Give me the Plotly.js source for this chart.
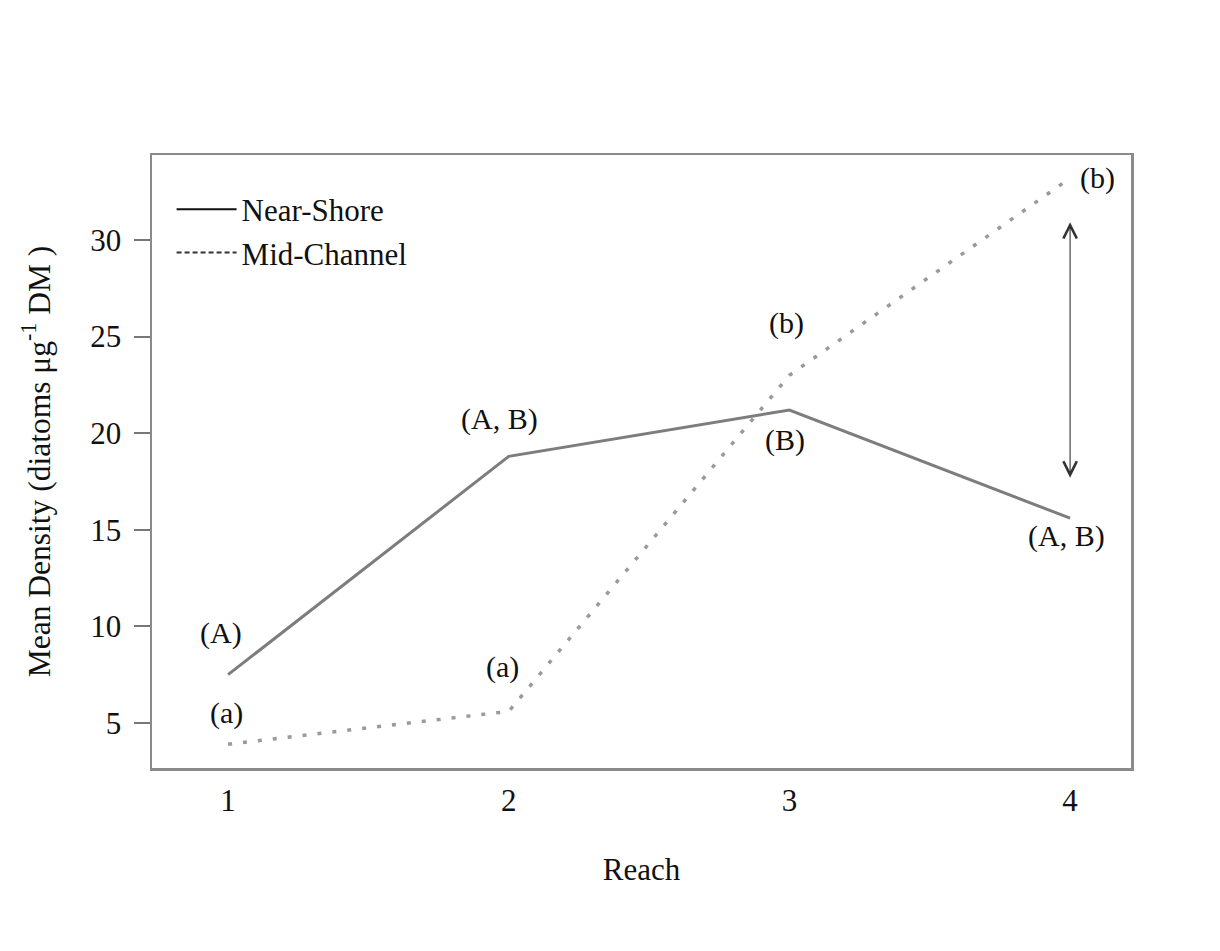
<!DOCTYPE html>
<html>
<head>
<meta charset="utf-8">
<script src="https://cdn.plot.ly/plotly-3.0.1.min.js"></script>
<style>html,body{margin:0;padding:0;background:#fff;}#chart{width:1220px;height:951px;}</style>
</head>
<body>
<div id="chart"></div>
<script>
// ---- data ----
var reach = [1, 2, 3, 4];
var nearShore = [7.5, 18.8, 21.2, 15.6];
var midChannel = [3.9, 5.6, 23.0, 33.2];
var nearShoreLetters = ["(A)", "(A, B)", "(B)", "(A, B)"];
var midChannelLetters = ["(a)", "(a)", "(b)", "(b)"];
var yTicks = [5, 10, 15, 20, 25, 30];
var xTicks = [1, 2, 3, 4];
var arrowReach = 4;
var arrowFrom = 17.7;
var arrowTo = 31.0;

var FONT = "Liberation Serif, Times New Roman, serif";

var traces = [
  {x: reach, y: nearShore, mode: "lines", name: "Near-Shore", showlegend: false,
   line: {color: "#7d7d7d", width: 3}},
  {x: reach, y: midChannel, mode: "lines", name: "Mid-Channel", showlegend: false,
   line: {color: "#9a9a9a", width: 3.5, dash: "4px,11px"}},
  // legend-only entries (black samples, like the reference key)
  {x: [null], y: [null], mode: "lines", name: "Near-Shore",
   line: {color: "#111", width: 2}},
  {x: [null], y: [null], mode: "lines", name: "Mid-Channel",
   line: {color: "#333", width: 2, dash: "5px,3px"}}
];

var nsShift = [[-7, 42], [-9, 37], [-4, -30], [-4, -18]];
var mcShift = [[-2, 31], [-6, 44], [-3, 52], [27, 0]];

var annotations = [];
for (var i = 0; i < reach.length; i++) {
  annotations.push({x: reach[i], y: nearShore[i], xref: "x", yref: "y", text: nearShoreLetters[i],
    showarrow: false, xshift: nsShift[i][0], yshift: nsShift[i][1],
    font: {family: FONT, size: 30, color: "#111"}});
  annotations.push({x: reach[i], y: midChannel[i], xref: "x", yref: "y", text: midChannelLetters[i],
    showarrow: false, xshift: mcShift[i][0], yshift: mcShift[i][1],
    font: {family: FONT, size: 30, color: "#111"}});
}
annotations.push({x: arrowReach, y: arrowFrom, ax: arrowReach, ay: arrowTo, xref: "x", yref: "y",
  axref: "x", ayref: "y", text: "", showarrow: true, arrowside: "end+start", arrowhead: 5,
  arrowsize: 2.4, arrowwidth: 1.1, arrowcolor: "#333", standoff: 0, startstandoff: 0});

var layout = {
  width: 1220, height: 951,
  margin: {l: 152, r: 89, t: 155, b: 183},
  paper_bgcolor: "#fff", plot_bgcolor: "#fff",
  font: {family: FONT, size: 30, color: "#111"},
  showlegend: true,
  annotations: annotations,
  legend: {x: 0.02, y: 0.955, xanchor: "left", yanchor: "top", bgcolor: "rgba(0,0,0,0)",
    borderwidth: 0, itemwidth: 60, font: {family: FONT, size: 31, color: "#111"},
    tracegroupgap: 0},
  xaxis: {range: [0.729, 4.217], tickvals: xTicks, ticktext: xTicks.map(String),
    showgrid: false, zeroline: false, showline: true, mirror: true,
    linecolor: "#8a8a8a", linewidth: 2.5, ticks: "", ticklabelstandoff: 3,
    tickfont: {family: FONT, size: 31, color: "#111"},
    title: {text: "Reach", font: {family: FONT, size: 31, color: "#111"}, standoff: 42}},
  yaxis: {range: [2.67, 34.4], tickvals: yTicks, ticktext: yTicks.map(String),
    showgrid: false, zeroline: false, showline: true, mirror: true,
    linecolor: "#8a8a8a", linewidth: 2.5, ticks: "outside", ticklen: 16, tickwidth: 2,
    tickcolor: "#777", ticklabelstandoff: 6,
    tickfont: {family: FONT, size: 31, color: "#111"},
    title: {text: "Mean Density (diatoms μg<sup>-1</sup> DM )", font: {family: FONT, size: 31.5, color: "#111"}, standoff: 31}}
};

Plotly.newPlot("chart", traces, layout, {displayModeBar: false, staticPlot: true});
</script>
</body>
</html>
